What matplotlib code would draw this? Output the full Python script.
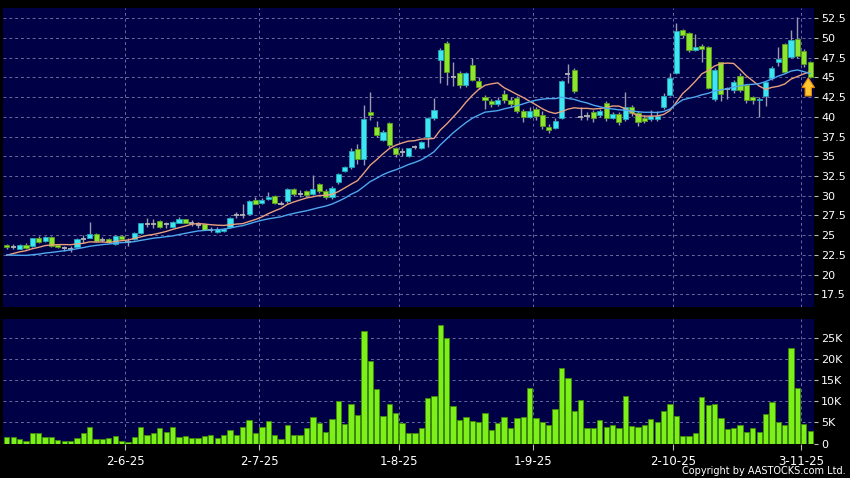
import numpy as np
import pandas as pd
import matplotlib
matplotlib.use("Agg")
import matplotlib.pyplot as plt

BG = "#000046"
CYAN = "#3EE6F2"
CYAN_EDGE = "#1FA8B8"
GREEN = "#8CE62E"
GREEN_EDGE = "#5C9C1C"
WICK = "#9A9AAE"
VOL_COLOR = "#7CF018"
VOL_EDGE = "#3E8A08"
GRID = "#6A6AA0"
MA10_COLOR = "#E9A07C"
MA20_COLOR = "#4EA8EE"

# daily candles, 6 May 2025 .. 4 Nov 2025 (HKD)
opens = [23.7, 23.5, 23.3, 23.75, 23.6, 24.7, 24.3, 24.8, 23.7, 23.4,
         23.3, 23.5, 24.5, 24.7, 25.2, 24.4, 24.5, 23.9, 24.9, 24.2,
         24.5, 25.3, 26.4, 26.4, 26.8, 26.4, 26.1, 26.6, 27.0, 26.5,
         26.3, 26.4, 25.6, 25.4, 25.5, 26.1, 27.6, 27.6, 27.7, 29.5,
         29.1, 29.6, 30.0, 29.0, 29.3, 30.9, 30.2, 30.6, 30.2, 31.5,
         30.6, 29.8, 31.7, 33.1, 33.6, 35.9, 34.6, 40.6, 38.7, 37.1,
         39.2, 36.0, 35.5, 35.0, 36.2, 36.0, 37.4, 39.9, 47.2, 49.4,
         45.1, 45.6, 44.0, 46.55, 44.6, 42.5, 42.0, 41.6, 42.9, 42.2,
         42.4, 40.7, 40.0, 41.0, 40.2, 38.75, 38.6, 39.9, 45.4, 46.0,
         40.0, 40.1, 40.6, 40.3, 41.8, 39.9, 40.4, 39.75, 41.25, 40.5,
         39.8, 39.7, 39.7, 41.2, 42.8, 45.6, 50.95, 50.6, 48.5, 49.0,
         48.85, 42.3, 46.9, 43.5, 43.4, 45.2, 44.0, 42.5, 42.1, 42.7,
         44.9, 46.9, 49.2, 47.6, 49.9, 48.4, 46.9]
highs = [23.9, 23.9, 23.9, 24.0, 24.7, 24.9, 24.9, 24.9, 23.8, 23.6,
         23.6, 24.6, 25.0, 26.7, 25.3, 24.8, 24.6, 25.0, 25.0, 24.6,
         25.4, 26.6, 27.2, 27.1, 26.9, 26.7, 26.8, 27.3, 27.1, 26.9,
         26.7, 26.5, 26.0, 26.0, 25.9, 27.3, 28.0, 28.9, 29.4, 29.8,
         29.7, 30.5, 30.1, 29.3, 31.0, 31.0, 30.7, 30.7, 32.6, 31.6,
         30.8, 31.2, 32.9, 33.8, 36.0, 36.6, 41.5, 43.2, 39.5, 38.3,
         39.4, 36.2, 36.0, 36.1, 36.4, 37.0, 40.0, 42.4, 48.7, 49.6,
         47.0, 45.8, 45.7, 47.4, 45.1, 42.8, 42.3, 42.5, 43.4, 42.5,
         42.6, 41.0, 41.3, 41.2, 40.8, 39.1, 39.9, 44.7, 46.7, 46.2,
         41.3, 40.6, 40.9, 41.0, 42.0, 40.6, 40.6, 43.1, 41.5, 40.7,
         40.2, 40.9, 40.8, 43.0, 45.6, 51.9, 51.2, 50.8, 50.5, 49.3,
         49.0, 46.2, 47.0, 43.8, 44.7, 45.5, 44.2, 42.7, 42.5, 44.6,
         46.5, 48.9, 49.4, 51.0, 52.6, 48.6, 47.1]
lows = [23.3, 23.2, 23.2, 23.2, 23.5, 24.0, 24.2, 23.5, 23.4, 23.0,
        22.9, 23.4, 24.0, 24.6, 24.2, 24.2, 24.0, 23.8, 24.4, 23.6,
        24.4, 25.2, 26.0, 25.9, 25.9, 25.9, 26.0, 26.5, 26.5, 26.2,
        25.9, 25.6, 25.4, 25.3, 25.4, 25.9, 27.2, 27.2, 27.5, 28.9,
        29.0, 29.5, 29.0, 28.8, 29.1, 30.0, 29.8, 29.9, 30.1, 30.3,
        29.6, 29.6, 31.5, 33.0, 33.4, 34.0, 33.9, 39.6, 37.4, 36.9,
        36.2, 34.9, 35.1, 34.9, 35.9, 35.9, 36.2, 39.6, 44.3, 44.0,
        43.9, 43.6, 43.8, 44.5, 43.5, 41.0, 41.2, 41.4, 41.8, 41.3,
        40.5, 39.4, 39.8, 39.6, 38.4, 38.0, 38.4, 39.7, 44.3, 43.0,
        39.6, 39.6, 39.4, 40.0, 39.5, 39.7, 39.0, 39.5, 40.1, 38.9,
        39.2, 39.5, 39.5, 41.0, 42.6, 45.4, 50.0, 48.2, 48.3, 47.0,
        43.5, 42.0, 42.0, 42.3, 43.0, 43.1, 41.8, 41.6, 40.0, 41.4,
        44.7, 46.4, 45.5, 47.4, 47.5, 46.3, 44.9]
closes = [23.5, 23.5, 23.7, 23.35, 24.6, 24.2, 24.8, 23.6, 23.5, 23.4,
          23.3, 24.5, 24.5, 25.2, 24.3, 24.4, 24.1, 24.9, 24.5, 24.2,
          25.3, 26.5, 26.4, 26.4, 26.1, 26.4, 26.7, 27.0, 26.6, 26.5,
          26.3, 25.7, 25.6, 25.8, 25.8, 27.2, 27.6, 27.6, 29.3, 29.0,
          29.5, 29.9, 29.1, 29.0, 30.9, 30.2, 30.2, 30.1, 30.8, 30.6,
          29.8, 31.0, 32.7, 33.6, 35.7, 34.7, 39.7, 40.2, 37.7, 38.1,
          36.4, 35.3, 35.5, 36.0, 36.2, 36.8, 39.8, 40.9, 48.45, 45.7,
          45.1, 44.0, 45.5, 44.7, 43.8, 42.1, 41.6, 42.2, 42.2, 41.6,
          40.8, 40.0, 40.8, 40.1, 38.8, 38.3, 39.5, 44.5, 45.4, 43.3,
          40.0, 40.1, 39.9, 40.8, 39.9, 40.4, 39.3, 41.25, 40.5, 39.3,
          39.5, 40.1, 40.1, 42.6, 44.9, 50.9, 50.4, 48.5, 48.9, 48.6,
          43.7, 45.9, 42.9, 43.5, 44.4, 43.4, 42.2, 42.2, 42.3, 44.4,
          46.2, 47.3, 45.7, 49.8, 47.7, 46.7, 45.1]
# closes before the window, only used to start the moving averages
pre_close = [24.4, 24.2, 24.0, 23.6, 23.0, 22.6, 22.2, 21.8, 21.5, 21.3,
             21.2, 21.4, 21.6, 21.9, 22.1, 22.4, 22.6, 22.8, 23.1, 23.3]
volume_k = [1.6, 1.6, 1.0, 0.7, 2.4, 2.4, 1.6, 1.6, 0.8, 0.5,
            0.5, 1.4, 2.4, 3.9, 1.0, 1.0, 1.3, 1.9, 0.7, 0.4,
            1.5, 4.0, 2.1, 2.4, 3.6, 2.8, 4.0, 1.6, 1.7, 1.3,
            1.3, 1.7, 2.0, 1.3, 2.0, 3.2, 2.0, 3.9, 5.6, 2.4,
            3.9, 5.3, 2.1, 1.0, 4.4, 2.0, 2.0, 3.6, 6.3, 4.8,
            2.8, 5.9, 10.1, 4.6, 9.3, 6.7, 26.7, 19.7, 12.9, 6.6,
            9.3, 7.3, 4.9, 2.5, 2.5, 3.7, 10.9, 11.4, 28.2, 25.1,
            8.9, 5.6, 6.2, 5.4, 5.1, 7.2, 3.3, 4.8, 6.3, 3.8,
            6.0, 6.3, 13.1, 6.0, 5.2, 4.5, 8.3, 17.9, 15.5, 7.7,
            10.3, 3.7, 3.7, 5.7, 4.0, 4.3, 3.7, 11.3, 4.1, 3.9,
            4.4, 5.8, 5.2, 7.7, 9.3, 6.6, 1.9, 1.7, 2.5, 11.0,
            9.1, 9.3, 6.0, 3.5, 3.6, 4.4, 2.7, 3.7, 2.7, 6.9,
            9.8, 5.2, 4.5, 22.7, 13.2, 4.7, 2.9]

date_idx = [19, 40, 62, 83, 105, 125]
date_labels = ["2-6-25", "2-7-25", "1-8-25", "1-9-25", "2-10-25", "3-11-25"]
price_ticks = [17.5, 20, 22.5, 25, 27.5, 30, 32.5, 35, 37.5, 40, 42.5, 45, 47.5, 50, 52.5]
vol_ticks = [0, 5, 10, 15, 20, 25]

o = np.array(opens)
h = np.array(highs)
l = np.array(lows)
c = np.array(closes)
x = np.arange(len(c))

s = pd.Series(pre_close + closes)
ma10 = s.rolling(10).mean().to_numpy()[len(pre_close):]
ma20 = s.rolling(20).mean().to_numpy()[len(pre_close):]

fig = plt.figure(figsize=(8.5, 4.78), dpi=100, facecolor="black")
ax = fig.add_axes([3 / 850, 1 - 307 / 478, 811 / 850, 299 / 478])
axv = fig.add_axes([3 / 850, 1 - 443.5 / 478, 811 / 850, 124.5 / 478])

for a in (ax, axv):
    a.set_facecolor(BG)
    for sp in a.spines.values():
        sp.set_visible(False)
    a.set_xlim(-0.6, 126.6)
    grid_x = [i - 0.45 for i in date_idx]
    a.set_xticks(grid_x)
    a.grid(True, color=GRID, ls=(0, (3, 3)), lw=0.7)
    a.set_axisbelow(True)
    a.yaxis.tick_right()
    a.tick_params(axis="y", colors="#BBBBBB", labelcolor="white", labelsize=8,
                  length=3, pad=2, direction="out")

# candles
ax.vlines(x, l, h, color=WICK, lw=1, zorder=2)
up = c > o
dn = c < o
flat = c == o
ax.bar(x[up], (c - o)[up], bottom=o[up], width=0.8, color=CYAN,
       edgecolor=CYAN_EDGE, lw=0.6, zorder=3)
ax.bar(x[dn], (o - c)[dn], bottom=c[dn], width=0.8, color=GREEN,
       edgecolor=GREEN_EDGE, lw=0.6, zorder=3)
ax.hlines(c[flat], x[flat] - 0.4, x[flat] + 0.4, color="#B4B4B4", lw=1.3, zorder=3)

ax.plot(x, ma10, color=MA10_COLOR, lw=1, zorder=4)
ax.plot(x, ma20, color=MA20_COLOR, lw=1, zorder=4)

ax.annotate("", xy=(125.7, 45.3), xytext=(125.7, 42.3),
            arrowprops=dict(arrowstyle="simple,head_width=0.9,head_length=0.7,tail_width=0.45",
                            fc="#FFC62E", ec="#E08A10", lw=0.8), zorder=6)

ax.set_ylim(15.9, 53.8)
ax.set_yticks(price_ticks)
ax.set_yticklabels([f"{v:g}" for v in price_ticks])
ax.tick_params(axis="x", length=0, labelbottom=False)

# volume
axv.bar(x, volume_k, width=0.83, color=VOL_COLOR, edgecolor=VOL_EDGE, lw=0.6, zorder=3)
axv.set_ylim(0, 29.6)
axv.set_yticks(vol_ticks)
axv.set_yticklabels(["0"] + [f"{v}K" for v in vol_ticks[1:]])
axv.set_xticklabels(date_labels)
axv.tick_params(axis="x", colors="#BBBBBB", labelcolor="white", labelsize=8.5,
                length=4, pad=4, direction="out")
axv.yaxis.grid(True, color=GRID, ls=(0, (3, 3)), lw=0.7)
axv.get_ygridlines()[0].set_visible(False)

fig.text(846 / 850, 1 - 471 / 478, "Copyright by AASTOCKS.com Ltd.", ha="right",
         va="center", color="white", fontsize=7)

fig.savefig("out.png", dpi=100, facecolor="black")
